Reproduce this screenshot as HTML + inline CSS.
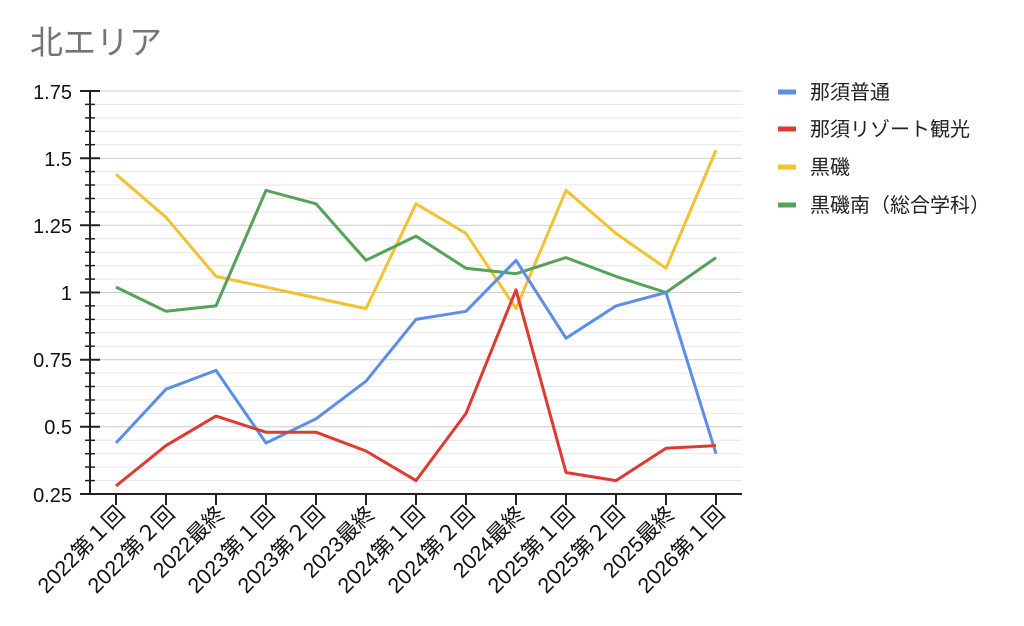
<!DOCTYPE html>
<html><head><meta charset="utf-8"><style>
body{margin:0;background:#fff;}
svg{display:block;font-family:"Liberation Sans","Noto Sans CJK JP",sans-serif;}
</style></head><body>
<svg width="1024" height="626" viewBox="0 0 1024 626">
<text x="30" y="54" font-size="33" fill="#757575">北エリア</text>
<g stroke="#e6e6e6" stroke-width="1">
<line x1="90" x2="742" y1="104.4" y2="104.4"/><line x1="90" x2="742" y1="117.9" y2="117.9"/><line x1="90" x2="742" y1="131.3" y2="131.3"/><line x1="90" x2="742" y1="144.7" y2="144.7"/>
<line x1="90" x2="742" y1="171.6" y2="171.6"/><line x1="90" x2="742" y1="185" y2="185"/><line x1="90" x2="742" y1="198.5" y2="198.5"/><line x1="90" x2="742" y1="211.9" y2="211.9"/>
<line x1="90" x2="742" y1="238.8" y2="238.8"/><line x1="90" x2="742" y1="252.2" y2="252.2"/><line x1="90" x2="742" y1="265.6" y2="265.6"/><line x1="90" x2="742" y1="279.1" y2="279.1"/>
<line x1="90" x2="742" y1="305.9" y2="305.9"/><line x1="90" x2="742" y1="319.4" y2="319.4"/><line x1="90" x2="742" y1="332.8" y2="332.8"/><line x1="90" x2="742" y1="346.2" y2="346.2"/>
<line x1="90" x2="742" y1="373.1" y2="373.1"/><line x1="90" x2="742" y1="386.5" y2="386.5"/><line x1="90" x2="742" y1="400" y2="400"/><line x1="90" x2="742" y1="413.4" y2="413.4"/>
<line x1="90" x2="742" y1="440.3" y2="440.3"/><line x1="90" x2="742" y1="453.7" y2="453.7"/><line x1="90" x2="742" y1="467.1" y2="467.1"/><line x1="90" x2="742" y1="480.6" y2="480.6"/>
</g>
<g stroke="#cccccc" stroke-width="1">
<line x1="90" x2="742" y1="91" y2="91"/><line x1="90" x2="742" y1="158.2" y2="158.2"/><line x1="90" x2="742" y1="225.3" y2="225.3"/><line x1="90" x2="742" y1="292.5" y2="292.5"/><line x1="90" x2="742" y1="359.7" y2="359.7"/><line x1="90" x2="742" y1="426.8" y2="426.8"/>
</g>
<g stroke="#222" stroke-width="2">
<line x1="90" x2="90" y1="91" y2="495"/><line x1="80" x2="742" y1="494" y2="494"/>
<line x1="80" x2="100" y1="91" y2="91"/><line x1="80" x2="100" y1="158.2" y2="158.2"/><line x1="80" x2="100" y1="225.3" y2="225.3"/><line x1="80" x2="100" y1="292.5" y2="292.5"/><line x1="80" x2="100" y1="359.7" y2="359.7"/><line x1="80" x2="100" y1="426.8" y2="426.8"/>
</g>
<g stroke="#222" stroke-width="1.5">
<line x1="85" x2="95" y1="104.4" y2="104.4"/><line x1="85" x2="95" y1="117.9" y2="117.9"/><line x1="85" x2="95" y1="131.3" y2="131.3"/><line x1="85" x2="95" y1="144.7" y2="144.7"/>
<line x1="85" x2="95" y1="171.6" y2="171.6"/><line x1="85" x2="95" y1="185" y2="185"/><line x1="85" x2="95" y1="198.5" y2="198.5"/><line x1="85" x2="95" y1="211.9" y2="211.9"/>
<line x1="85" x2="95" y1="238.8" y2="238.8"/><line x1="85" x2="95" y1="252.2" y2="252.2"/><line x1="85" x2="95" y1="265.6" y2="265.6"/><line x1="85" x2="95" y1="279.1" y2="279.1"/>
<line x1="85" x2="95" y1="305.9" y2="305.9"/><line x1="85" x2="95" y1="319.4" y2="319.4"/><line x1="85" x2="95" y1="332.8" y2="332.8"/><line x1="85" x2="95" y1="346.2" y2="346.2"/>
<line x1="85" x2="95" y1="373.1" y2="373.1"/><line x1="85" x2="95" y1="386.5" y2="386.5"/><line x1="85" x2="95" y1="400" y2="400"/><line x1="85" x2="95" y1="413.4" y2="413.4"/>
<line x1="85" x2="95" y1="440.3" y2="440.3"/><line x1="85" x2="95" y1="453.7" y2="453.7"/><line x1="85" x2="95" y1="467.1" y2="467.1"/><line x1="85" x2="95" y1="480.6" y2="480.6"/>
</g>
<g stroke="#222" stroke-width="2">
<line x1="116" x2="116" y1="494" y2="505"/><line x1="166" x2="166" y1="494" y2="505"/><line x1="216" x2="216" y1="494" y2="505"/><line x1="266" x2="266" y1="494" y2="505"/><line x1="316" x2="316" y1="494" y2="505"/><line x1="366" x2="366" y1="494" y2="505"/><line x1="416" x2="416" y1="494" y2="505"/><line x1="466" x2="466" y1="494" y2="505"/><line x1="516" x2="516" y1="494" y2="505"/><line x1="566" x2="566" y1="494" y2="505"/><line x1="616" x2="616" y1="494" y2="505"/><line x1="666" x2="666" y1="494" y2="505"/><line x1="716" x2="716" y1="494" y2="505"/>
</g>
<g font-size="20" fill="#111" text-anchor="end">
<text x="72" y="99">1.75</text><text x="72" y="166">1.5</text><text x="72" y="233">1.25</text><text x="72" y="300">1</text><text x="72" y="367">0.75</text><text x="72" y="434">0.5</text><text x="72" y="502">0.25</text>
</g>
<g font-size="21.5" fill="#111" text-anchor="end">
<text transform="translate(126,515) rotate(-45)">2022第１回</text>
<text transform="translate(176,515) rotate(-45)">2022第２回</text>
<text transform="translate(226,515) rotate(-45)">2022最終</text>
<text transform="translate(276,515) rotate(-45)">2023第１回</text>
<text transform="translate(326,515) rotate(-45)">2023第２回</text>
<text transform="translate(376,515) rotate(-45)">2023最終</text>
<text transform="translate(426,515) rotate(-45)">2024第１回</text>
<text transform="translate(476,515) rotate(-45)">2024第２回</text>
<text transform="translate(526,515) rotate(-45)">2024最終</text>
<text transform="translate(576,515) rotate(-45)">2025第１回</text>
<text transform="translate(626,515) rotate(-45)">2025第２回</text>
<text transform="translate(676,515) rotate(-45)">2025最終</text>
<text transform="translate(726,515) rotate(-45)">2026第１回</text>
</g>
<g fill="none" stroke-width="3" stroke-linejoin="round">
<polyline stroke="#f2c232" points="116,174.3 166,217.3 216,276.4 266,287.1 316,297.9 366,308.6 416,203.8 466,233.4 516,308.6 566,190.4 616,233.4 666,268.3 716,150.1"/>
<polyline stroke="#55a25a" points="116,287.1 166,311.3 216,305.9 266,190.4 316,203.8 366,260.3 416,236.1 466,268.3 516,273.7 566,257.6 616,276.4 666,292.5 716,257.6"/>
<polyline stroke="#5b8ee6" points="116,443 166,389.2 216,370.4 266,443 316,418.8 366,381.2 416,319.4 466,311.3 516,260.3 566,338.2 616,305.9 666,292.5 716,453.7"/>
<polyline stroke="#de3b30" points="116,485.9 166,445.6 216,416.1 266,432.2 316,432.2 366,451 416,480.6 466,413.4 516,289.8 566,472.5 616,480.6 666,448.3 716,445.6"/>
</g>
<g stroke-width="5">
<line x1="778" x2="796" y1="92" y2="92" stroke="#5b8ee6"/>
<line x1="778" x2="796" y1="129" y2="129" stroke="#de3b30"/>
<line x1="778" x2="796" y1="167" y2="167" stroke="#f2c232"/>
<line x1="778" x2="796" y1="205" y2="205" stroke="#55a25a"/>
</g>
<g font-size="20" fill="#222">
<text x="810" y="99">那須普通</text>
<text x="810" y="136">那須リゾート観光</text>
<text x="810" y="174">黒磯</text>
<text x="810" y="212">黒磯南（総合学科）</text>
</g>
</svg>
</body></html>
